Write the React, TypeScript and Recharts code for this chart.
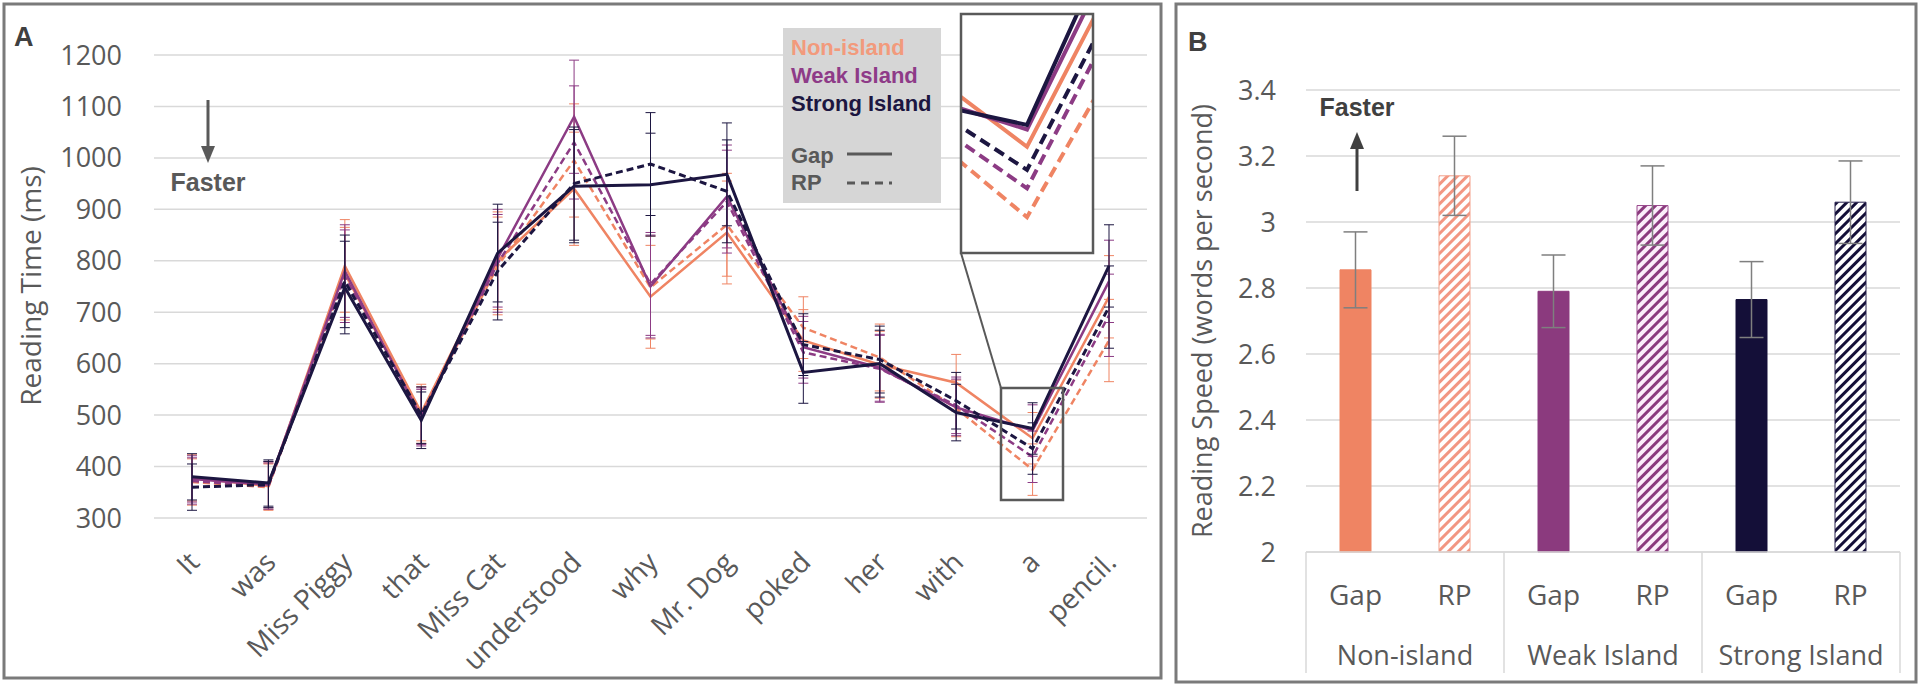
import React from 'react';
import {
  Bar,
  BarChart,
  CartesianGrid,
  Cell,
  ErrorBar,
  Line,
  LineChart,
  XAxis,
  YAxis,
} from 'recharts';

// ---- Panel A: reading time per word ----
const WORDS = ['It', 'was', 'Miss Piggy', 'that', 'Miss Cat', 'understood', 'why', 'Mr. Dog', 'poked', 'her', 'with', 'a', 'pencil.'];
const NON_GAP = [378, 362, 790, 505, 800, 940, 730, 855, 645, 598, 563, 455, 730];
const NON_RP = [370, 360, 775, 500, 790, 995, 748, 870, 670, 612, 513, 394, 645];
const WEAK_GAP = [376, 365, 780, 495, 805, 1080, 750, 925, 632, 592, 515, 470, 760];
const WEAK_RP = [372, 362, 770, 498, 795, 1030, 755, 915, 622, 590, 519, 419, 694];
const STRONG_GAP = [380, 368, 748, 490, 815, 945, 948, 968, 583, 600, 505, 474, 790];
const STRONG_RP = [360, 365, 760, 500, 780, 950, 988, 935, 637, 608, 528, 435, 710];
const ERR_A = [45, 45, 90, 55, 95, 110, 100, 100, 60, 65, 55, 50, 80];
const TICKS_A = [300, 400, 500, 600, 700, 800, 900, 1000, 1100, 1200];

// ---- Panel B: reading speed ----
const GROUPS = ['Non-island', 'Weak Island', 'Strong Island'];
const CONDS = ['Gap', 'RP'];
const SPEED = [2.855, 3.14, 2.79, 3.05, 2.765, 3.06];
const SPEED_ERR = [0.115, 0.12, 0.11, 0.12, 0.115, 0.125];
const TICKS_B = [2, 2.2, 2.4, 2.6, 2.8, 3, 3.2, 3.4];

const NON_COLOR = '#EF8463';
const WEAK_COLOR = '#8C3B84';
const STRONG_COLOR = '#1C1641';
const TEXT = '#595959';
const GRID = '#d9d9d9';
const FONT = '"Open Sans", "Noto Sans", sans-serif';
const BOLD_FONT = '"Liberation Sans", Arial, sans-serif';

const SERIES = [
  { key: 'nonGap', values: NON_GAP, color: NON_COLOR, dashed: false, w: 2.5 },
  { key: 'nonRp', values: NON_RP, color: NON_COLOR, dashed: true, w: 2.5 },
  { key: 'weakGap', values: WEAK_GAP, color: WEAK_COLOR, dashed: false, w: 2.5 },
  { key: 'weakRp', values: WEAK_RP, color: WEAK_COLOR, dashed: true, w: 2.5 },
  { key: 'strongGap', values: STRONG_GAP, color: STRONG_COLOR, dashed: false, w: 3 },
  { key: 'strongRp', values: STRONG_RP, color: STRONG_COLOR, dashed: true, w: 3 },
];

const lineData = WORDS.map((word, i) => {
  const row: Record<string, string | number> = { word, idx: i };
  SERIES.forEach((s) => {
    row[s.key] = s.values[i];
    row[`${s.key}Err`] = ERR_A[i];
  });
  return row;
});

const barData = SPEED.map((v, i) => ({
  cond: CONDS[i % 2],
  group: GROUPS[Math.floor(i / 2)],
  speed: v,
  err: SPEED_ERR[i],
}));

const BAR_FILLS = [NON_COLOR, 'url(#hatchNon)', '#8B3A7E', 'url(#hatchWeak)', '#140F38', 'url(#hatchStrong)'];
const BAR_STROKES = [NON_COLOR, '#F3A08A', '#8B3A7E', '#9A4C8E', '#140F38', '#2a2550'];

function WordTick({ x, y, payload }: any) {
  const ax = x + 9;
  const ay = y + 38;
  return (
    <text
      x={ax}
      y={ay}
      transform={`rotate(-45, ${ax}, ${ay})`}
      textAnchor="end"
      fill={TEXT}
      fontSize={28}
      fontFamily={FONT}
    >
      {payload.value}
    </text>
  );
}

function CondTick({ x, y, payload, index }: any) {
  const half = payload.offset || 49.5;
  const top = y - 8;
  return (
    <g>
      <text x={x} y={y + 45} textAnchor="middle" fill={TEXT} fontSize={28} fontFamily={FONT}>
        {payload.value}
      </text>
      {index % 2 === 0 && (
        <text x={x + half} y={y + 105} textAnchor="middle" fill={TEXT} fontSize={27} fontFamily={FONT}>
          {GROUPS[index / 2]}
        </text>
      )}
      {index % 2 === 0 && <line x1={x - half} x2={x - half} y1={top} y2={top + 121} stroke={GRID} strokeWidth={1.5} />}
      {index === SPEED.length - 1 && (
        <line x1={x + half} x2={x + half} y1={top} y2={top + 121} stroke={GRID} strokeWidth={1.5} />
      )}
    </g>
  );
}

function Arrow({ x, y1, y2, color }: { x: number; y1: number; y2: number; color: string }) {
  // y1 = tail, y2 = tip
  const dir = y2 > y1 ? 1 : -1;
  return (
    <svg style={{ position: 'absolute', left: 0, top: 0, overflow: 'visible' }} width={1} height={1}>
      <line x1={x} x2={x} y1={y1} y2={y2 - dir * 14} stroke={color} strokeWidth={3} />
      <polygon points={`${x - 7},${y2 - dir * 17} ${x + 7},${y2 - dir * 17} ${x},${y2}`} fill={color} />
    </svg>
  );
}

export default function App() {
  return (
    <div style={{ position: 'absolute', left: 0, top: 0, width: 1920, height: 685, background: '#fff', overflow: 'hidden' }}>
      {/* ===== Panel A ===== */}
      <div style={{ position: 'absolute', left: 0, top: 0 }}>
        <LineChart width={1160} height={685} data={lineData} margin={{ top: 55, right: 13, left: 0, bottom: 0 }}>
          <CartesianGrid horizontal vertical={false} stroke={GRID} strokeWidth={1.5} />
          <XAxis
            dataKey="word"
            interval={0}
            height={167}
            padding={{ left: 38, right: 38 }}
            axisLine={false}
            tickLine={false}
            tick={<WordTick />}
          />
          <YAxis
            domain={[300, 1200]}
            ticks={TICKS_A}
            width={154}
            axisLine={false}
            tickLine={false}
            tickMargin={26}
            tick={{ fill: TEXT, fontSize: 27, fontFamily: FONT }}
          />
          {SERIES.map((s) => (
            <Line
              key={s.key}
              type="linear"
              dataKey={s.key}
              stroke={s.color}
              strokeWidth={s.w}
              strokeDasharray={s.dashed ? '7 4' : undefined}
              dot={false}
              isAnimationActive={false}
            >
              <ErrorBar dataKey={`${s.key}Err`} width={5} strokeWidth={1} stroke={s.color} direction="y" />
            </Line>
          ))}
        </LineChart>
      </div>

      <div style={{ position: 'absolute', left: 14, top: 22, fontFamily: BOLD_FONT, fontWeight: 700, fontSize: 27, color: '#404040' }}>A</div>
      <div
        style={{
          position: 'absolute',
          left: 30,
          top: 286,
          transform: 'translate(-50%, -50%) rotate(-90deg)',
          whiteSpace: 'nowrap',
          fontFamily: FONT,
          fontSize: 28,
          color: TEXT,
        }}
      >
        Reading Time (ms)
      </div>
      <Arrow x={208} y1={100} y2={163} color="#595959" />
      <div
        style={{
          position: 'absolute',
          left: 208,
          top: 182,
          transform: 'translate(-50%, -50%)',
          fontFamily: BOLD_FONT,
          fontWeight: 700,
          fontSize: 25,
          color: '#595959',
        }}
      >
        Faster
      </div>

      {/* legend */}
      <div
        style={{
          position: 'absolute',
          left: 783,
          top: 28,
          width: 158,
          height: 175,
          background: '#d6d6d6',
          fontFamily: BOLD_FONT,
          fontWeight: 700,
          fontSize: 22,
          lineHeight: '28px',
        }}
      >
        <div style={{ position: 'absolute', left: 8, top: 6, color: '#F29A7C' }}>Non-island</div>
        <div style={{ position: 'absolute', left: 8, top: 34, color: '#8E3B88' }}>Weak Island</div>
        <div style={{ position: 'absolute', left: 8, top: 62, color: STRONG_COLOR }}>Strong Island</div>
        <div style={{ position: 'absolute', left: 8, top: 114, color: TEXT }}>Gap</div>
        <div style={{ position: 'absolute', left: 8, top: 141, color: TEXT }}>RP</div>
        <svg style={{ position: 'absolute', left: 0, top: 0 }} width={158} height={175}>
          <line x1={64} x2={109} y1={126} y2={126} stroke={TEXT} strokeWidth={3} />
          <line x1={64} x2={109} y1={155} y2={155} stroke={TEXT} strokeWidth={3} strokeDasharray="8 6" />
        </svg>
      </div>

      {/* zoom inset */}
      <div style={{ position: 'absolute', left: 961, top: 14, width: 132, height: 239, background: '#fff', overflow: 'hidden' }}>
        <LineChart width={132} height={239} data={lineData} margin={{ top: 0, right: 0, left: 0, bottom: 0 }}>
          <XAxis type="number" dataKey="idx" domain={[10.6, 11.4]} allowDataOverflow hide />
          <YAxis domain={[363, 570]} allowDataOverflow hide width={0} />
          {SERIES.map((s) => (
            <Line
              key={s.key}
              type="linear"
              dataKey={s.key}
              stroke={s.color}
              strokeWidth={4}
              strokeDasharray={s.dashed ? '11 6' : undefined}
              dot={false}
              isAnimationActive={false}
            />
          ))}
        </LineChart>
      </div>
      <svg style={{ position: 'absolute', left: 0, top: 0 }} width={1920} height={685}>
        <rect x={961} y={14} width={132} height={239} fill="none" stroke="#595959" strokeWidth={2.5} />
        <rect x={1001} y={388} width={62} height={112} fill="none" stroke="#595959" strokeWidth={2.5} />
        <line x1={961} y1={253} x2={1001} y2={388} stroke="#595959" strokeWidth={2} />
        <rect x={4} y={4} width={1157} height={674} fill="none" stroke="#7a7a7a" strokeWidth={3} />
        <rect x={1176} y={4} width={740} height={678} fill="none" stroke="#7a7a7a" strokeWidth={3} />
      </svg>

      {/* ===== Panel B ===== */}
      <div style={{ position: 'absolute', left: 1176, top: 0 }}>
        <BarChart width={744} height={685} data={barData} margin={{ top: 90, right: 20, left: 0, bottom: 0 }}>
          <defs>
            <pattern id="hatchNon" patternUnits="userSpaceOnUse" width={7} height={7} patternTransform="rotate(45)">
              <rect width={7} height={7} fill="#fff" />
              <rect width={3} height={7} fill="#F29682" />
            </pattern>
            <pattern id="hatchWeak" patternUnits="userSpaceOnUse" width={7} height={7} patternTransform="rotate(45)">
              <rect width={7} height={7} fill="#fbeefa" />
              <rect width={3} height={7} fill="#8B3A7E" />
            </pattern>
            <pattern id="hatchStrong" patternUnits="userSpaceOnUse" width={7} height={7} patternTransform="rotate(45)">
              <rect width={7} height={7} fill="#fff" />
              <rect width={3} height={7} fill="#140F38" />
            </pattern>
          </defs>
          <CartesianGrid horizontal vertical={false} stroke={GRID} strokeWidth={1.5} />
          <XAxis
            dataKey="cond"
            interval={0}
            height={133}
            axisLine={{ stroke: GRID, strokeWidth: 1.5 }}
            tickLine={false}
            tick={<CondTick />}
          />
          <YAxis
            domain={[2, 3.4]}
            ticks={TICKS_B}
            width={130}
            axisLine={false}
            tickLine={false}
            tickMargin={24}
            tick={{ fill: TEXT, fontSize: 27, fontFamily: FONT }}
          />
          <Bar dataKey="speed" barSize={31} isAnimationActive={false}>
            {barData.map((_, i) => (
              <Cell key={i} fill={BAR_FILLS[i]} stroke={BAR_STROKES[i]} strokeWidth={1} />
            ))}
            <ErrorBar dataKey="err" width={12} strokeWidth={1.5} stroke="#7f7f7f" direction="y" />
          </Bar>
        </BarChart>
      </div>

      <div style={{ position: 'absolute', left: 1188, top: 27, fontFamily: BOLD_FONT, fontWeight: 700, fontSize: 27, color: '#404040' }}>B</div>
      <div
        style={{
          position: 'absolute',
          left: 1201,
          top: 321,
          transform: 'translate(-50%, -50%) rotate(-90deg)',
          whiteSpace: 'nowrap',
          fontFamily: FONT,
          fontSize: 27,
          color: TEXT,
        }}
      >
        Reading Speed (words per second)
      </div>
      <Arrow x={1357} y1={191} y2={132} color="#404040" />
      <div
        style={{
          position: 'absolute',
          left: 1357,
          top: 107,
          transform: 'translate(-50%, -50%)',
          fontFamily: BOLD_FONT,
          fontWeight: 700,
          fontSize: 25,
          color: '#404040',
        }}
      >
        Faster
      </div>
    </div>
  );
}
